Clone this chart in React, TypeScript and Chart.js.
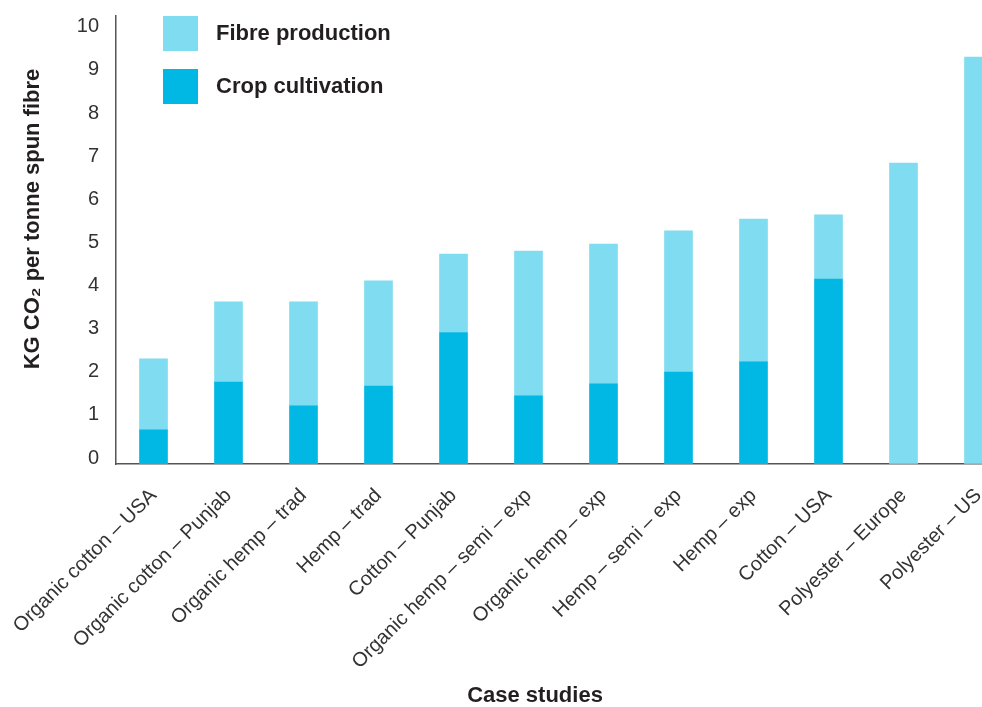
import React, { useEffect, useRef } from 'react';
import { Chart, registerables } from 'chart.js';

Chart.register(...registerables);

const categories = [
  'Organic cotton – USA',
  'Organic cotton – Punjab',
  'Organic hemp – trad',
  'Hemp – trad',
  'Cotton – Punjab',
  'Organic hemp – semi – exp',
  'Organic hemp – exp',
  'Hemp – semi – exp',
  'Hemp – exp',
  'Cotton – USA',
  'Polyester – Europe',
  'Polyester – US',
];
const cropCultivation = [0.79, 1.9, 1.35, 1.81, 3.05, 1.58, 1.86, 2.13, 2.37, 4.29, 0, 0];
const fibreProduction = [1.65, 1.86, 2.41, 2.44, 1.82, 3.36, 3.24, 3.28, 3.31, 1.49, 6.98, 9.44];
const yTickValues = [0, 1, 2, 3, 4, 5, 6, 7, 8, 9, 10];

const yTitle = 'KG CO₂ per tonne spun fibre';
const xTitle = 'Case studies';

const FONT = '"Liberation Sans", Arial, Helvetica, sans-serif';
const CROP = '#00b8e3';
const FIBRE = '#80dcf0';

// legend + axis titles drawn by hand so they sit where the original puts them
const overlay = {
  id: 'overlay',
  afterDraw(chart: any) {
    const { ctx, chartArea } = chart;
    ctx.save();
    ctx.font = `bold 22px ${FONT}`;
    ctx.textBaseline = 'middle';
    const items = [chart.data.datasets[1], chart.data.datasets[0]];
    items.forEach((ds: any, i: number) => {
      const y = chartArea.top + i * 53;
      ctx.fillStyle = ds.backgroundColor;
      ctx.fillRect(chartArea.left + 47, y, 35, 35);
      ctx.fillStyle = '#231f20';
      ctx.textAlign = 'left';
      ctx.fillText(ds.label, chartArea.left + 100, y + 18);
    });

    ctx.textAlign = 'center';
    ctx.fillStyle = '#231f20';
    ctx.font = `bold 22px ${FONT}`;
    ctx.fillText(xTitle, 535, 696);

    ctx.translate(33, 219);
    ctx.rotate(-Math.PI / 2);
    ctx.fillText(yTitle, 0, 0);
    ctx.restore();
  },
};

const App: React.FC = () => {
  const canvasRef = useRef<HTMLCanvasElement | null>(null);

  useEffect(() => {
    if (!canvasRef.current) return;
    const chart = new Chart(canvasRef.current, {
      type: 'bar',
      data: {
        labels: categories,
        datasets: [
          {
            label: 'Crop cultivation',
            data: cropCultivation,
            backgroundColor: CROP,
            barThickness: 28,
          },
          {
            label: 'Fibre production',
            data: fibreProduction,
            backgroundColor: FIBRE,
            barThickness: 28,
          },
        ],
      },
      options: {
        animation: false,
        responsive: true,
        maintainAspectRatio: false,
        layout: { padding: { left: 0, right: 14, top: 16, bottom: 0 } },
        plugins: {
          legend: { display: false },
          tooltip: { enabled: false },
        },
        scales: {
          x: {
            stacked: true,
            grid: { display: false, drawTicks: false },
            border: { display: true, color: '#555', width: 1.5 },
            ticks: {
              autoSkip: false,
              minRotation: 45,
              maxRotation: 45,
              padding: 20,
              color: '#333',
              font: { family: FONT, size: 20 },
            },
            afterFit: (scale: any) => {
              scale.height = 243;
              scale.paddingLeft = 0;
              scale.paddingRight = 0;
            },
          },
          y: {
            stacked: true,
            min: 0,
            max: 10.39,
            grid: { display: false, drawTicks: false },
            border: { display: true, color: '#555', width: 1.5 },
            ticks: {
              padding: 17,
              labelOffset: -6,
              color: '#333',
              font: { family: FONT, size: 20 },
            },
            afterBuildTicks: (scale: any) => {
              scale.ticks = yTickValues.map((v) => ({ value: v }));
            },
            afterFit: (scale: any) => {
              scale.width = 116;
              scale.paddingTop = 0;
              scale.paddingBottom = 0;
            },
          },
        },
      },
      plugins: [overlay],
    });
    return () => chart.destroy();
  }, []);

  return (
    <div style={{ position: 'fixed', top: 0, left: 0, width: 982, height: 707, overflow: 'hidden', background: '#fff' }}>
      <div style={{ position: 'relative', width: 1030, height: 707 }}>
        <canvas ref={canvasRef}></canvas>
      </div>
    </div>
  );
};

export default App;
